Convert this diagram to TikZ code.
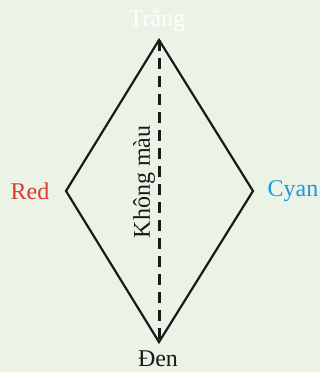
\documentclass[tikz,border=0pt]{standalone}
\usepackage{fontspec}
\setmainfont{Liberation Serif}
\definecolor{bg}{HTML}{EAF3E6}
\definecolor{redlbl}{HTML}{D93A33}
\definecolor{cyanlbl}{HTML}{1E9BD7}
\definecolor{ink}{HTML}{1A1A1A}
\begin{document}
\begin{tikzpicture}[x=1pt,y=1pt,
  lbl/.style={font=\fontsize{24}{28}\selectfont, inner sep=0pt},
  edge/.style={draw=ink, line width=2.2pt, line join=miter},
  dashline/.style={draw=ink, line width=3pt, dash pattern=on 11pt off 7pt}]
\fill[bg] (0,0) rectangle (320,372);
\useasboundingbox (0,0) rectangle (320,372);
\coordinate (T) at (159,332);
\coordinate (B) at (159,30);
\coordinate (L) at (66,181);
\coordinate (R) at (253,181);
\draw[edge] (T) -- (R) -- (B) -- (L) -- cycle;
\draw[dashline] (T) -- (B);
\node[lbl, text=white] (trang) at (157,352) {Trắng};
\node[lbl, text=redlbl] (red) at (30,181) {Red};
\node[lbl, text=cyanlbl] (cyan) at (293,181) {Cyan};
\node[lbl, text=ink] (den) at (158,13) {Đen};
\node[lbl, text=ink, rotate=90] (khong) at (144,190) {Không màu};
\end{tikzpicture}
\end{document}
